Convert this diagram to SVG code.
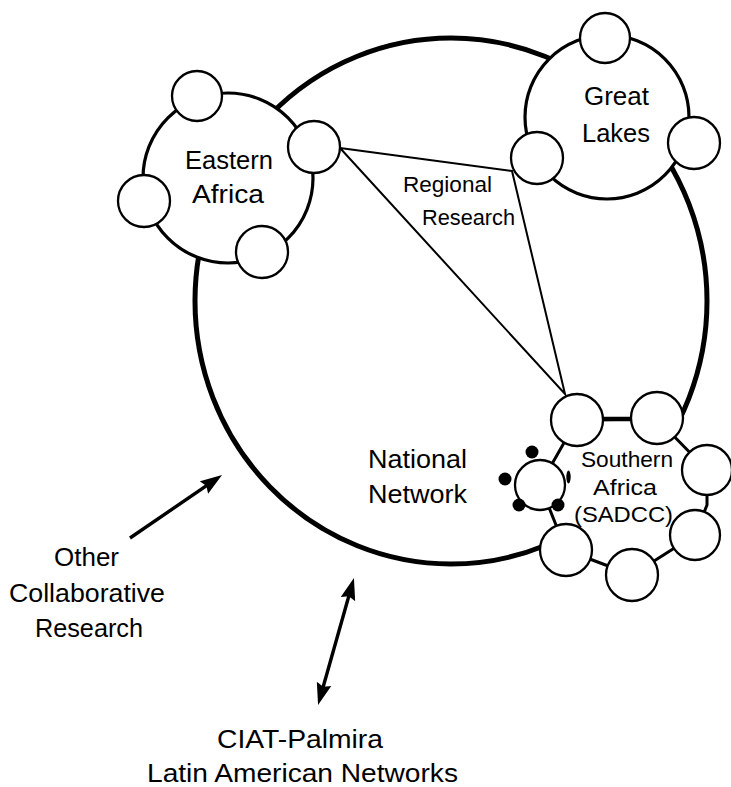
<svg xmlns="http://www.w3.org/2000/svg" width="731" height="787" viewBox="0 0 731 787">
  <style>
    .ring { fill: #fff; stroke: #000; stroke-width: 3.2; }
    .node { fill: #fff; stroke: #000; stroke-width: 2.3; }
    .link { fill: none; stroke: #000; stroke-width: 2; }
    .arrow { fill: none; stroke: #000; stroke-width: 3.4; }
    .dot { fill: #000; }
    text { font-family: "Liberation Sans", Arial, Helvetica, sans-serif; fill: #000; }
    .lg { font-size: 25px; }
    .sm { font-size: 21.5px; }
  </style>
  <defs>
    <marker id="head" markerUnits="userSpaceOnUse" markerWidth="24" markerHeight="16"
            refX="9" refY="8" orient="auto-start-reverse">
      <path d="M0,0.5 L22,8 L0,15.5 L3,8 Z" fill="#000"/>
    </marker>
  </defs>

  <!-- national network: the large enclosing loop -->
  <g id="national-network">
    <ellipse cx="451" cy="301" rx="256" ry="263" fill="none" stroke="#000" stroke-width="5"/>
    <text class="lg" x="368" y="468" textLength="99" lengthAdjust="spacingAndGlyphs">National</text>
    <text class="lg" x="368" y="503" textLength="99" lengthAdjust="spacingAndGlyphs">Network</text>
  </g>

  <!-- eastern africa cluster -->
  <g id="eastern-africa">
    <circle class="ring" cx="228" cy="178" r="85"/>
    <text class="lg" x="185" y="169" textLength="88" lengthAdjust="spacingAndGlyphs">Eastern</text>
    <text class="lg" x="192" y="203" textLength="72" lengthAdjust="spacingAndGlyphs">Africa</text>
  </g>

  <!-- great lakes cluster -->
  <g id="great-lakes">
    <circle class="ring" cx="607" cy="117" r="82"/>
    <text class="lg" x="584" y="105" textLength="65" lengthAdjust="spacingAndGlyphs">Great</text>
    <text class="lg" x="582" y="142" textLength="68" lengthAdjust="spacingAndGlyphs">Lakes</text>
  </g>

  <!-- southern africa (SADCC) cluster: ring through its member nodes -->
  <g id="southern-africa">
    <path d="M577,420 L657,419 L707,470 L707,505 L695,535 L632,575 L566,550 L540,485 Z"
          fill="#fff" stroke="#000" stroke-width="3" stroke-linejoin="round"/>
    <line x1="577" y1="419" x2="657" y2="419" stroke="#000" stroke-width="4.5"/>
    <text class="sm" x="581" y="467" textLength="92" lengthAdjust="spacingAndGlyphs">Southern</text>
    <text class="sm" x="593" y="495" textLength="64" lengthAdjust="spacingAndGlyphs">Africa</text>
    <text class="sm" x="574" y="522" textLength="99" lengthAdjust="spacingAndGlyphs">(SADCC)</text>
  </g>

  <!-- connectors: regional research triangle and outside links -->
  <g id="connectors">
    <polyline class="link" points="340,148 512,171 565,394 340,148"/>
    <line class="arrow" x1="130" y1="538" x2="211.3" y2="482.4" marker-end="url(#head)"/>
    <line class="arrow" x1="321.6" y1="692.5" x2="350.4" y2="590.5" marker-start="url(#head)" marker-end="url(#head)"/>
  </g>

  <!-- member nodes -->
  <g id="ea-nodes">
    <circle class="node" cx="197" cy="96" r="25"/>
    <circle class="node" cx="314" cy="147" r="26"/>
    <circle class="node" cx="144" cy="201" r="26"/>
    <circle class="node" cx="262" cy="252" r="26"/>
  </g>
  <g id="gl-nodes">
    <circle class="node" cx="605" cy="38" r="25"/>
    <circle class="node" cx="694" cy="143" r="26"/>
    <circle class="node" cx="537" cy="158" r="26"/>
  </g>
  <g id="sadcc-nodes">
    <circle class="node" cx="577" cy="420" r="26"/>
    <circle class="node" cx="657" cy="418" r="26"/>
    <circle class="node" cx="707" cy="470" r="25"/>
    <circle class="node" cx="695" cy="535" r="25"/>
    <circle class="node" cx="632" cy="575" r="26"/>
    <circle class="node" cx="566" cy="550" r="26"/>
  </g>
  <g id="sadcc-hub">
    <circle class="node" cx="540" cy="485" r="25"/>
    <circle class="dot" cx="532" cy="452" r="6.5"/>
    <circle class="dot" cx="505" cy="479" r="6.5"/>
    <circle class="dot" cx="519" cy="505" r="6.5"/>
    <circle class="dot" cx="558" cy="505" r="6.5"/>
    <ellipse class="dot" cx="568.5" cy="477" rx="2.2" ry="6.5"/>
  </g>

  <!-- regional research label -->
  <g id="regional-research">
    <text class="sm" x="403" y="192" textLength="89" lengthAdjust="spacingAndGlyphs">Regional</text>
    <text class="sm" x="422" y="225" textLength="93" lengthAdjust="spacingAndGlyphs">Research</text>
  </g>

  <!-- outside partners -->
  <g id="other-collaborative">
    <text class="lg" x="54" y="566" textLength="65" lengthAdjust="spacingAndGlyphs">Other</text>
    <text class="lg" x="9" y="602" textLength="156" lengthAdjust="spacingAndGlyphs">Collaborative</text>
    <text class="lg" x="35" y="637" textLength="108" lengthAdjust="spacingAndGlyphs">Research</text>
  </g>
  <g id="ciat-palmira">
    <text class="lg" x="217" y="748" textLength="166" lengthAdjust="spacingAndGlyphs">CIAT-Palmira</text>
    <text class="lg" x="147" y="782" textLength="311" lengthAdjust="spacingAndGlyphs">Latin American Networks</text>
  </g>
</svg>
